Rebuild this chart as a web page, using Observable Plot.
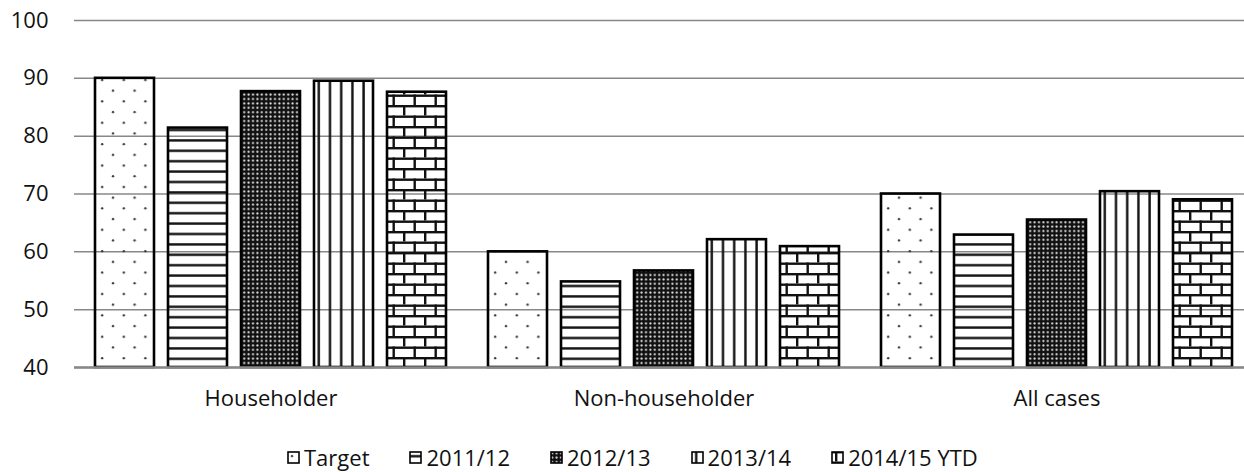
<!DOCTYPE html>
<html>
<head>
<meta charset="utf-8">
<script src="https://cdn.jsdelivr.net/npm/d3@7"></script>
<script src="https://cdn.jsdelivr.net/npm/@observablehq/plot@0.6"></script>
<style>
  html, body { margin: 0; padding: 0; background: white; overflow: hidden; width: 1244px; height: 472px; }
  #chart { position: absolute; left: 0; top: 0; }
  #legend { position: absolute; left: 287px; top: 442px; height: 30px; display: flex; align-items: center; gap: 40px;
            font-family: "Open Sans", sans-serif; font-size: 22px; color: #111; white-space: nowrap; }
  .item { display: flex; align-items: center; gap: 4px; }
  .item svg { display: block; }
</style>
</head>
<body>
<svg width="0" height="0" style="position:absolute">
  <defs>
    <pattern id="pTarget" patternUnits="userSpaceOnUse" width="21.6" height="21.4">
      <circle cx="5" cy="5" r="1.2" fill="#333"/>
      <circle cx="15.8" cy="15.7" r="1.2" fill="#333"/>
    </pattern>
    <pattern id="p2011" patternUnits="userSpaceOnUse" width="10" height="10.4">
      <rect x="0" y="4" width="10" height="2.4" fill="#111"/>
    </pattern>
    <pattern id="p2012" patternUnits="userSpaceOnUse" width="4.4" height="4.4">
      <rect x="0" y="0" width="4.4" height="4.4" fill="#111"/>
      <circle cx="2.2" cy="2.2" r="1.05" fill="#e6e6e6"/>
    </pattern>
    <pattern id="p2013" patternUnits="userSpaceOnUse" width="11.2" height="10">
      <rect x="4" y="0" width="2.4" height="10" fill="#111"/>
    </pattern>
    <pattern id="p2014" patternUnits="userSpaceOnUse" width="21" height="21">
      <rect x="0" y="0" width="21" height="2.4" fill="#111"/>
      <rect x="0" y="10.5" width="21" height="2.4" fill="#111"/>
      <rect x="4" y="0" width="2.4" height="10.5" fill="#111"/>
      <rect x="14.5" y="10.5" width="2.4" height="10.5" fill="#111"/>
    </pattern>
  </defs>
</svg>
<div id="chart"></div>
<div id="legend"></div>
<script>
const categories = ["Householder", "Non-householder", "All cases"];
const seriesNames = ["Target", "2011/12", "2012/13", "2013/14", "2014/15 YTD"];
const target   = [90, 60, 70];
const fy201112 = [81.4, 54.8, 62.9];
const fy201213 = [87.7, 56.7, 65.5];
const fy201314 = [89.5, 62.1, 70.4];
const fy201415 = [87.6, 60.9, 69.0];
const yTicks = [40, 50, 60, 70, 80, 90, 100];
const patternIds = ["pTarget", "p2011", "p2012", "p2013", "p2014"];

const seriesValues = [target, fy201112, fy201213, fy201314, fy201415];
const data = categories.flatMap((c, i) =>
  seriesNames.map((s, j) => ({category: c, series: s, value: seriesValues[j][i], fill: `url(#${patternIds[j]})`}))
);

const chart = Plot.plot({
  width: 1253,
  height: 420,
  marginLeft: 74,
  marginRight: 0,
  marginTop: 20,
  marginBottom: 53,
  style: {fontFamily: "Open Sans, sans-serif", fontSize: "22px", color: "#111", background: "white", maxWidth: "none", overflow: "visible"},
  fx: {domain: categories, padding: 0, label: null, axis: "bottom", tickSize: 0, tickPadding: 23},
  x: {domain: seriesNames, paddingInner: 14 / 73, paddingOuter: 21 / 73, axis: null},
  y: {domain: [40, 100], ticks: yTicks, tickSize: 0, tickPadding: 26, label: null},
  fill: {type: "identity"},
  marks: [
    Plot.ruleY(yTicks, {stroke: "#888", strokeWidth: 1.5}),
    Plot.barY(data, {fx: "category", x: "series", y1: 40, y2: "value", fill: "fill", stroke: "#000", strokeWidth: 2.6}),
    Plot.ruleY([40], {stroke: "#888", strokeWidth: 2.6})
  ]
});
document.getElementById("chart").appendChild(chart);

const legend = document.getElementById("legend");
seriesNames.forEach((s, j) => {
  const item = document.createElement("div");
  item.className = "item";
  item.innerHTML = `<svg width="13" height="13"><rect x="1" y="1" width="11" height="11" fill="white"/><rect x="1" y="1" width="11" height="11" fill="url(#${patternIds[j]})" stroke="#000" stroke-width="1.6"/></svg><span>${s}</span>`;
  legend.appendChild(item);
});
</script>
</body>
</html>
